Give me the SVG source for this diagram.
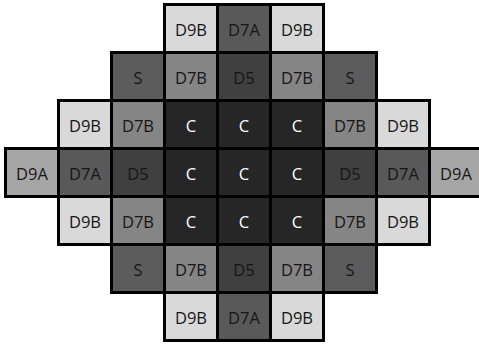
<svg xmlns="http://www.w3.org/2000/svg" width="479" height="346" viewBox="0 0 479 346">
<style>
rect{stroke:#000;stroke-width:3}
text{font-family:"Open Sans","Liberation Sans",sans-serif;font-size:16.5px;text-anchor:middle;fill:#161616}
.d9b{fill:#d9d9d9}.d7a{fill:#595959}.d7b{fill:#858585}.d5{fill:#404040}.c{fill:#262626}.s{fill:#5c5c5c}.d9a{fill:#a6a6a6}
text.w{fill:#ffffff}
</style>
<rect width="479" height="346" fill="#fff" style="stroke:none"/>
<g id="r0">
<g id="n0-3"><rect class="d9b" x="164.5" y="4.5" width="53" height="48"/><text x="191" y="35.5">D9B</text></g>
<g id="n0-4"><rect class="d7a" x="217.5" y="4.5" width="53" height="48"/><text x="244" y="35.5">D7A</text></g>
<g id="n0-5"><rect class="d9b" x="270.5" y="4.5" width="53" height="48"/><text x="297" y="35.5">D9B</text></g>
</g>
<g id="r1">
<g id="n1-2"><rect class="s" x="111.5" y="52.5" width="53" height="48"/><text x="138" y="83.5">S</text></g>
<g id="n1-3"><rect class="d7b" x="164.5" y="52.5" width="53" height="48"/><text x="191" y="83.5">D7B</text></g>
<g id="n1-4"><rect class="d5" x="217.5" y="52.5" width="53" height="48"/><text x="244" y="83.5">D5</text></g>
<g id="n1-5"><rect class="d7b" x="270.5" y="52.5" width="53" height="48"/><text x="297" y="83.5">D7B</text></g>
<g id="n1-6"><rect class="s" x="323.5" y="52.5" width="53" height="48"/><text x="350" y="83.5">S</text></g>
</g>
<g id="r2">
<g id="n2-1"><rect class="d9b" x="58.5" y="100.5" width="53" height="48"/><text x="85" y="131.5">D9B</text></g>
<g id="n2-2"><rect class="d7b" x="111.5" y="100.5" width="53" height="48"/><text x="138" y="131.5">D7B</text></g>
<g id="n2-3"><rect class="c" x="164.5" y="100.5" width="53" height="48"/><text class="w" x="191" y="131.5">C</text></g>
<g id="n2-4"><rect class="c" x="217.5" y="100.5" width="53" height="48"/><text class="w" x="244" y="131.5">C</text></g>
<g id="n2-5"><rect class="c" x="270.5" y="100.5" width="53" height="48"/><text class="w" x="297" y="131.5">C</text></g>
<g id="n2-6"><rect class="d7b" x="323.5" y="100.5" width="53" height="48"/><text x="350" y="131.5">D7B</text></g>
<g id="n2-7"><rect class="d9b" x="376.5" y="100.5" width="53" height="48"/><text x="403" y="131.5">D9B</text></g>
</g>
<g id="r3">
<g id="n3-0"><rect class="d9a" x="5.5" y="148.5" width="53" height="48"/><text x="32" y="179.5">D9A</text></g>
<g id="n3-1"><rect class="d7a" x="58.5" y="148.5" width="53" height="48"/><text x="85" y="179.5">D7A</text></g>
<g id="n3-2"><rect class="d5" x="111.5" y="148.5" width="53" height="48"/><text x="138" y="179.5">D5</text></g>
<g id="n3-3"><rect class="c" x="164.5" y="148.5" width="53" height="48"/><text class="w" x="191" y="179.5">C</text></g>
<g id="n3-4"><rect class="c" x="217.5" y="148.5" width="53" height="48"/><text class="w" x="244" y="179.5">C</text></g>
<g id="n3-5"><rect class="c" x="270.5" y="148.5" width="53" height="48"/><text class="w" x="297" y="179.5">C</text></g>
<g id="n3-6"><rect class="d5" x="323.5" y="148.5" width="53" height="48"/><text x="350" y="179.5">D5</text></g>
<g id="n3-7"><rect class="d7a" x="376.5" y="148.5" width="53" height="48"/><text x="403" y="179.5">D7A</text></g>
<g id="n3-8"><rect class="d9a" x="429.5" y="148.5" width="53" height="48"/><text x="456" y="179.5">D9A</text></g>
</g>
<g id="r4">
<g id="n4-1"><rect class="d9b" x="58.5" y="196.5" width="53" height="48"/><text x="85" y="227.5">D9B</text></g>
<g id="n4-2"><rect class="d7b" x="111.5" y="196.5" width="53" height="48"/><text x="138" y="227.5">D7B</text></g>
<g id="n4-3"><rect class="c" x="164.5" y="196.5" width="53" height="48"/><text class="w" x="191" y="227.5">C</text></g>
<g id="n4-4"><rect class="c" x="217.5" y="196.5" width="53" height="48"/><text class="w" x="244" y="227.5">C</text></g>
<g id="n4-5"><rect class="c" x="270.5" y="196.5" width="53" height="48"/><text class="w" x="297" y="227.5">C</text></g>
<g id="n4-6"><rect class="d7b" x="323.5" y="196.5" width="53" height="48"/><text x="350" y="227.5">D7B</text></g>
<g id="n4-7"><rect class="d9b" x="376.5" y="196.5" width="53" height="48"/><text x="403" y="227.5">D9B</text></g>
</g>
<g id="r5">
<g id="n5-2"><rect class="s" x="111.5" y="244.5" width="53" height="48"/><text x="138" y="275.5">S</text></g>
<g id="n5-3"><rect class="d7b" x="164.5" y="244.5" width="53" height="48"/><text x="191" y="275.5">D7B</text></g>
<g id="n5-4"><rect class="d5" x="217.5" y="244.5" width="53" height="48"/><text x="244" y="275.5">D5</text></g>
<g id="n5-5"><rect class="d7b" x="270.5" y="244.5" width="53" height="48"/><text x="297" y="275.5">D7B</text></g>
<g id="n5-6"><rect class="s" x="323.5" y="244.5" width="53" height="48"/><text x="350" y="275.5">S</text></g>
</g>
<g id="r6">
<g id="n6-3"><rect class="d9b" x="164.5" y="292.5" width="53" height="48"/><text x="191" y="323.5">D9B</text></g>
<g id="n6-4"><rect class="d7a" x="217.5" y="292.5" width="53" height="48"/><text x="244" y="323.5">D7A</text></g>
<g id="n6-5"><rect class="d9b" x="270.5" y="292.5" width="53" height="48"/><text x="297" y="323.5">D9B</text></g>
</g>
<g id="connectors"/>
</svg>
